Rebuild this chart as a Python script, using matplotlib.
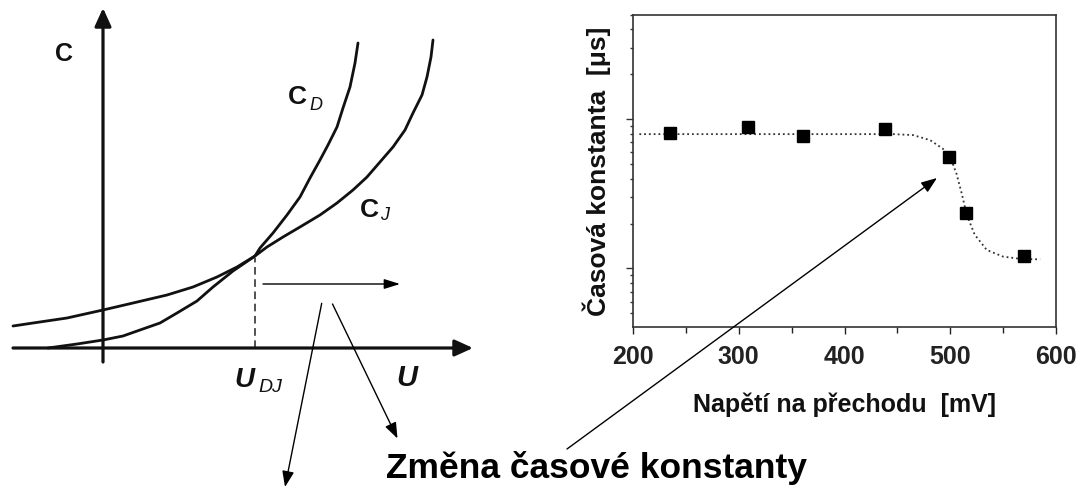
import matplotlib
matplotlib.use("Agg")
import matplotlib.pyplot as plt
from matplotlib.patches import FancyArrowPatch
from matplotlib.ticker import LogLocator, MultipleLocator, NullFormatter

plt.rcParams['font.family'] = ['Liberation Sans', 'DejaVu Sans']

W, H = 1083, 488

# right chart: measured time constant vs. junction voltage
voltage_mv = [235, 309, 361, 438, 499, 515, 570]
tau_us = [8.04, 8.91, 7.71, 8.60, 5.57, 2.36, 1.22]

# dotted fit line
fit_mv = [206, 300, 400, 446, 465, 481, 493, 500, 506, 511, 515.5, 523, 534.5, 550, 566, 585]
fit_us = [7.95, 7.95, 7.95, 7.95, 7.83, 7.24, 6.35, 5.57, 4.30, 3.15, 2.30, 1.69, 1.33, 1.20, 1.16, 1.15]

# left sketch: C_J and C_D vs U (arbitrary units, origin at axis crossing)
cj_u = [-0.90, -0.70, -0.36, 0.00, 0.30, 0.64, 0.90, 1.14, 1.34, 1.52,
        1.64, 1.80, 1.97, 2.17, 2.34, 2.50, 2.64, 2.77, 2.90, 3.02, 3.10, 3.19, 3.24, 3.28, 3.30]
cj_c = [0.22, 0.25, 0.30, 0.38, 0.45, 0.53, 0.61, 0.71, 0.81, 0.92,
        1.01, 1.11, 1.21, 1.33, 1.45, 1.58, 1.71, 1.86, 2.01, 2.18, 2.35, 2.53, 2.71, 2.91, 3.08]
cd_u = [-0.55, -0.26, 0.00, 0.20, 0.37, 0.57, 0.74, 0.94, 1.10, 1.30, 1.52,
        1.57, 1.70, 1.84, 1.97, 2.07, 2.17, 2.25, 2.34, 2.40, 2.47, 2.52, 2.55]
cd_c = [0.00, 0.04, 0.08, 0.12, 0.18, 0.25, 0.35, 0.47, 0.61, 0.77, 0.92,
        1.00, 1.15, 1.33, 1.51, 1.70, 1.88, 2.03, 2.21, 2.40, 2.61, 2.85, 3.05]
u_dj, c_dj = 1.52, 0.92


def px(x, y):
    # image pixel (top-left origin) -> figure fraction
    return (x / W, 1 - y / H)


fig = plt.figure(figsize=(W / 100, H / 100), dpi=100)

# ---- left sketch ----
lx = fig.add_axes([0, 68 / H, 480 / W, 420 / H])
lx.set_xlim(-1.03, 3.77)
lx.set_ylim(-0.72, 3.48)
lx.axis('off')

ink = '#111111'
lx.plot(cj_u, cj_c, color=ink, lw=2, solid_capstyle='round', solid_joinstyle='round')
lx.plot(cd_u, cd_c, color=ink, lw=2, solid_capstyle='round', solid_joinstyle='round')

axis_arrow = dict(arrowstyle='-|>,head_length=0.55,head_width=0.25', lw=2.3,
                  color=ink, mutation_scale=20, shrinkA=0, shrinkB=0)
lx.annotate('', xy=(3.70, 0), xytext=(-0.90, 0), arrowprops=axis_arrow)
lx.annotate('', xy=(0, 3.40), xytext=(0, -0.14), arrowprops=axis_arrow)

lx.plot([u_dj, u_dj], [0, c_dj - 0.02], ls=(0, (5, 3)), lw=1.1, color='#222222')
lx.annotate('', xy=(2.97, 0.64), xytext=(u_dj + 0.08, 0.64),
            arrowprops=dict(arrowstyle='-|>,head_length=0.8,head_width=0.25', lw=1,
                            color='black', mutation_scale=12, shrinkA=0, shrinkB=0))

fig.text(*px(64, 54), 'C', fontsize=18, fontweight='bold', color=ink, ha='center', va='center')
fig.text(*px(297, 97), 'C', fontsize=19, fontweight='bold', color=ink, ha='center', va='center')
fig.text(*px(316, 106), 'D', fontsize=13, style='italic', color=ink, ha='center', va='center')
fig.text(*px(369, 210), 'C', fontsize=19, fontweight='bold', color=ink, ha='center', va='center')
fig.text(*px(385, 215), 'J', fontsize=13, style='italic', color=ink, ha='center', va='center')
fig.text(*px(244, 380), 'U', fontsize=20, fontweight='bold', style='italic', color=ink,
         ha='center', va='center')
fig.text(*px(270, 387), 'DJ', fontsize=14, style='italic', color=ink, ha='center', va='center')
fig.text(*px(407, 378), 'U', fontsize=21, fontweight='bold', style='italic', color=ink,
         ha='center', va='center')

# ---- right chart ----
ax = fig.add_axes([633 / W, 1 - 327 / H, 423 / W, 312 / H])
ax.set_yscale('log')
ax.plot(fit_mv, fit_us, ls=':', lw=1.3, color='#333333')
ax.plot(voltage_mv, tau_us, 's', ms=9, color='black')
ax.set_xlim(200, 600)
ax.set_ylim(0.405, 50)

ax.xaxis.set_major_locator(MultipleLocator(100))
ax.xaxis.set_minor_locator(MultipleLocator(50))
ax.yaxis.set_major_locator(LogLocator(base=10, numticks=10))
ax.yaxis.set_minor_locator(LogLocator(base=10, subs=range(2, 10), numticks=10))
ax.yaxis.set_major_formatter(NullFormatter())
ax.yaxis.set_minor_formatter(NullFormatter())

ax.tick_params(axis='x', which='major', direction='out', length=5, width=1,
               labelsize=18, pad=8, colors='#222222')
ax.tick_params(axis='x', which='minor', direction='out', length=4, width=1, colors='#222222')
ax.tick_params(axis='y', which='major', direction='out', length=5, width=1, colors='#333333')
ax.tick_params(axis='y', which='minor', direction='out', length=2.5, width=1, colors='#333333')
for lab in ax.get_xticklabels():
    lab.set_fontweight('bold')

for sp in ax.spines.values():
    sp.set_color('#333333')
    sp.set_linewidth(1.2)

ax.set_ylabel('Časová konstanta  [μs]', fontsize=19, fontweight='bold', color='#111111')
ax.yaxis.set_label_coords(-0.052, 0.5)
ax.set_xlabel('Napětí na přechodu  [mV]', fontsize=18, fontweight='bold', color='#111111')
ax.xaxis.set_label_coords(0.5, -0.21)

# ---- caption and pointer arrows ----
fig.text(596.5 / W, 1 - 478 / H, 'Změna časové konstanty', fontsize=25.5,
         fontweight='bold', ha='center', va='baseline')

pointers = [((321.7, 303.3), (285, 487)),
            ((332.5, 304), (397.5, 438.5)),
            ((567, 449), (937, 178))]
for start, end in pointers:
    fig.add_artist(FancyArrowPatch(px(*start), px(*end), transform=fig.transFigure,
                                   arrowstyle='-|>,head_length=0.8,head_width=0.3',
                                   mutation_scale=12, lw=1, color='black',
                                   shrinkA=0, shrinkB=0, zorder=5))

fig.savefig('out.png', dpi=100)
